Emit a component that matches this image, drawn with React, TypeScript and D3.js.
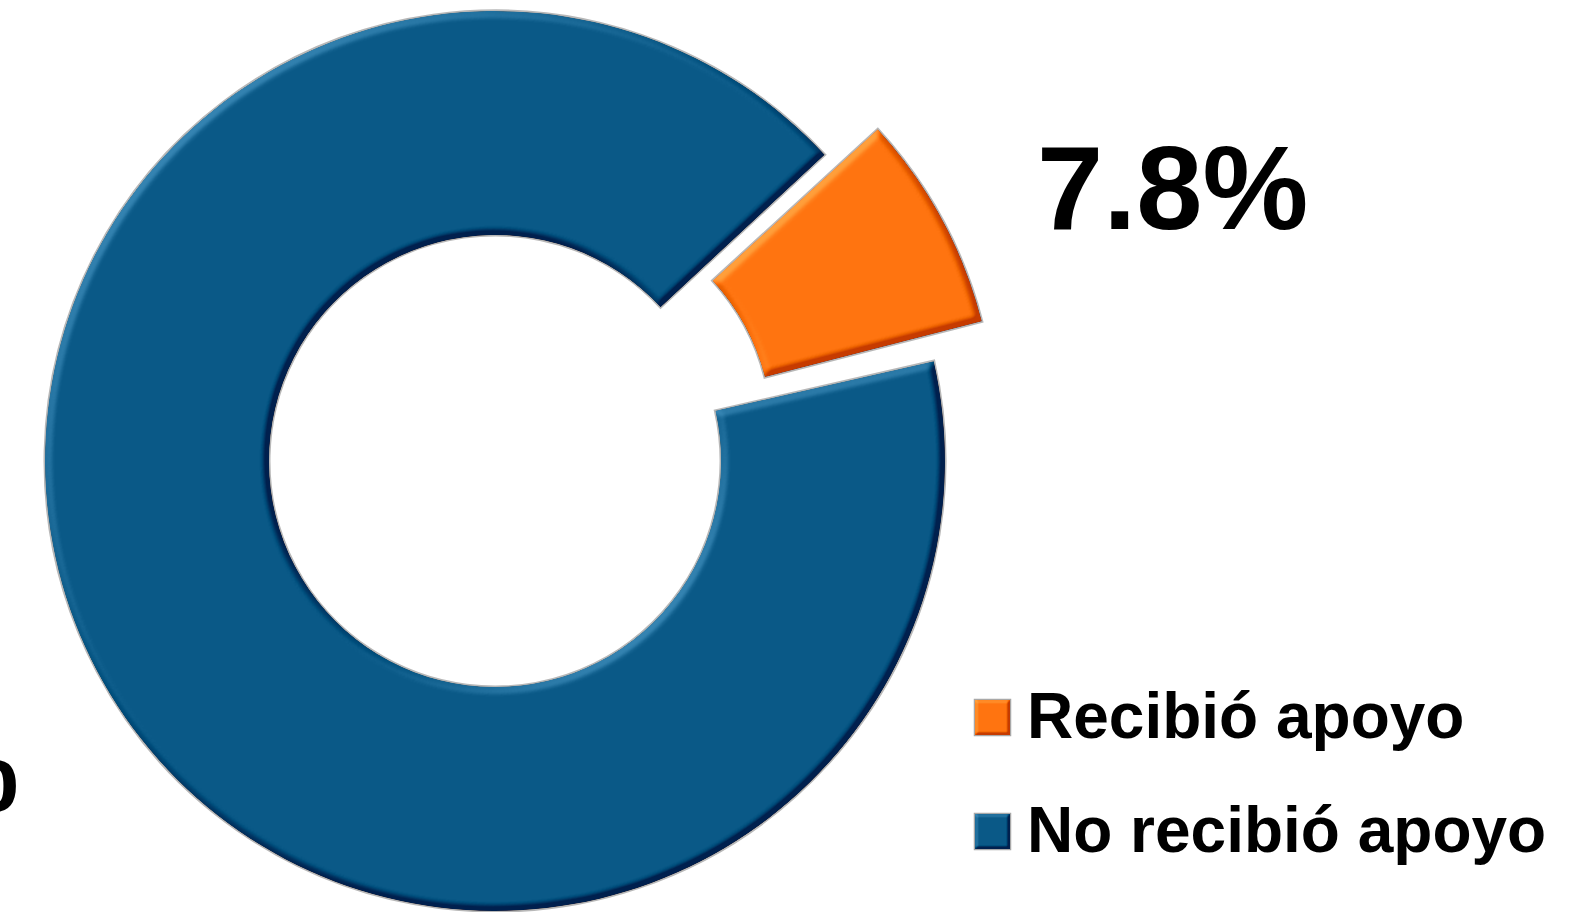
import React from "react";
import * as d3 from "d3";

const categories = ["Recibió apoyo", "No recibió apoyo"];
const values = [7.8, 92.2];
const valueLabels = ["7.8%", "92.2%"];
const colors = ["#FF7410", "#0A5987"];

const W = 1579;
const H = 912;
const cx = 495;
const cy = 461;
const outerR = 450;
const innerR = 226;
const startDeg = 47.5;
const explode = [58, 0];
// small angular trim (degrees) at each end of every slice, to reproduce the visible gaps
const trimStart = [0, 1.6];
const trimEnd = [0, 0.4];
const FONT = "'Liberation Sans', Arial, Helvetica, sans-serif";

function Bevel({ id, blur, scale }: { id: string; blur: number; scale: number }) {
  return (
    <filter id={id} x="-5%" y="-5%" width="110%" height="110%" colorInterpolationFilters="sRGB">
      <feGaussianBlur in="SourceAlpha" stdDeviation={blur} result="blur" />
      <feDiffuseLighting in="blur" surfaceScale={scale} diffuseConstant={0.87} lightingColor="#fff" result="diff">
        <feDistantLight azimuth={225} elevation={35} />
      </feDiffuseLighting>
      <feComposite in="SourceGraphic" in2="diff" operator="arithmetic" k1={0} k2={1} k3={0.45} k4={-0.225} result="lit" />
      <feComposite in="lit" in2="SourceAlpha" operator="in" />
    </filter>
  );
}

export default function App() {
  const start = (startDeg * Math.PI) / 180;
  const pie = d3
    .pie<number>()
    .sort(null)
    .startAngle(start)
    .endAngle(start + 2 * Math.PI);
  const arcs = pie(values);
  const arcGen = d3.arc<d3.PieArcDatum<number>>().innerRadius(innerR).outerRadius(outerR);
  const rad = Math.PI / 180;

  return (
    <svg
      width={W}
      height={H}
      style={{ position: "absolute", left: 0, top: 0, background: "#fff" }}
    >
      <defs>
        <Bevel id="bevel" blur={3.5} scale={8} />
        <Bevel id="bevelSmall" blur={1.5} scale={4} />
      </defs>

      {arcs.map((a, i) => {
        const mid = (a.startAngle + a.endAngle) / 2;
        const dx = explode[i] * Math.sin(mid);
        const dy = -explode[i] * Math.cos(mid);
        const datum = {
          ...a,
          startAngle: a.startAngle + trimStart[i] * rad,
          endAngle: a.endAngle - trimEnd[i] * rad,
        };
        const d = arcGen(datum) || "";
        return (
          <g key={categories[i]} transform={`translate(${cx + dx},${cy + dy})`}>
            <path d={d} fill="none" stroke="#b8b8b8" strokeWidth={3} />
            <path d={d} fill={colors[i]} filter="url(#bevel)" />
          </g>
        );
      })}

      <text x={1037} y={229} fontFamily={FONT} fontWeight="bold" fontSize={119} fill="#000">
        {valueLabels[0]}
      </text>
      <text x={19} y={811} textAnchor="end" fontFamily={FONT} fontWeight="bold" fontSize={119} fill="#000">
        {valueLabels[1]}
      </text>

      {categories.map((c, i) => {
        const y0 = 700 + i * 114;
        return (
          <g key={c}>
            <rect x={975} y={y0} width={35} height={35} fill="none" stroke="#a8a8a8" strokeWidth={2.5} />
            <rect x={975} y={y0} width={35} height={35} fill={colors[i]} filter="url(#bevelSmall)" />
            <text x={1027} y={y0 + 38} fontFamily={FONT} fontWeight="bold" fontSize={64} fill="#000">
              {c}
            </text>
          </g>
        );
      })}
    </svg>
  );
}
